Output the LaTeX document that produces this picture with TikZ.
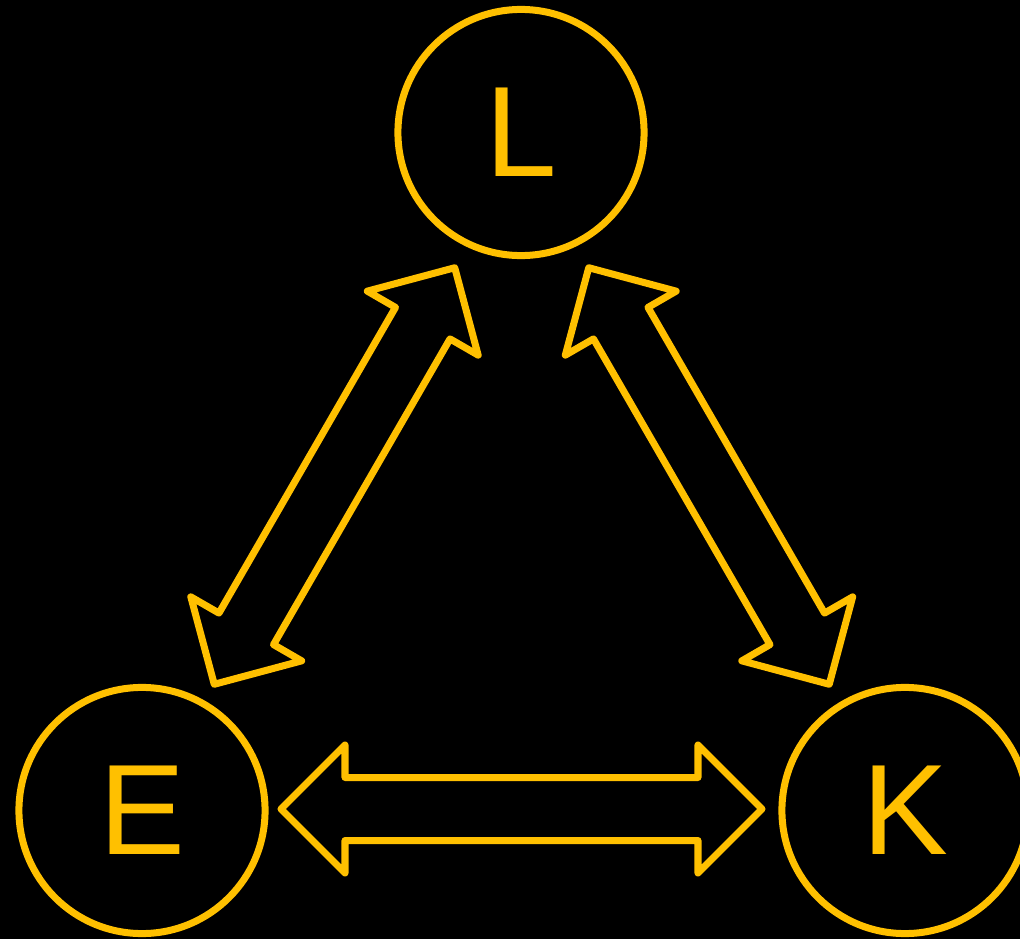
\documentclass[tikz,border=0pt]{standalone}
\usepackage{fontspec}
\setmainfont{Liberation Sans}
\definecolor{gold}{HTML}{FFC000}
\begin{document}
\begin{tikzpicture}[x=0.01cm,y=-0.01cm,
  ring/.style={circle,draw=gold,line width=0.07cm,minimum size=2.46cm,inner sep=0pt,text=gold,font=\fontsize{36.6}{40}\selectfont},
  arrowline/.style={draw=gold,line width=0.07cm,line join=round},
  dblarr/.pic={\path[arrowline] (-240.5,0) -- (-176.5,-64) -- (-176.5,-31.5) -- (176.5,-31.5) -- (176.5,-64) -- (240.5,0) -- (176.5,64) -- (176.5,31.5) -- (-176.5,31.5) -- (-176.5,64) -- cycle;}]
\fill[black] (0,0) rectangle (1020,939);
\useasboundingbox (0,0) rectangle (1020,939);
\node[ring] (L) at (521,132.5) {L};
\node[ring] (E) at (142,810.5) {E};
\node[ring] (K) at (905,810.5) {K};
\pic[rotate=60] (LE) at (334.5,476) {dblarr};
\pic[rotate=-60] (LK) at (709,476) {dblarr};
\pic (EK) at (521.5,809) {dblarr};
\end{tikzpicture}
\end{document}
